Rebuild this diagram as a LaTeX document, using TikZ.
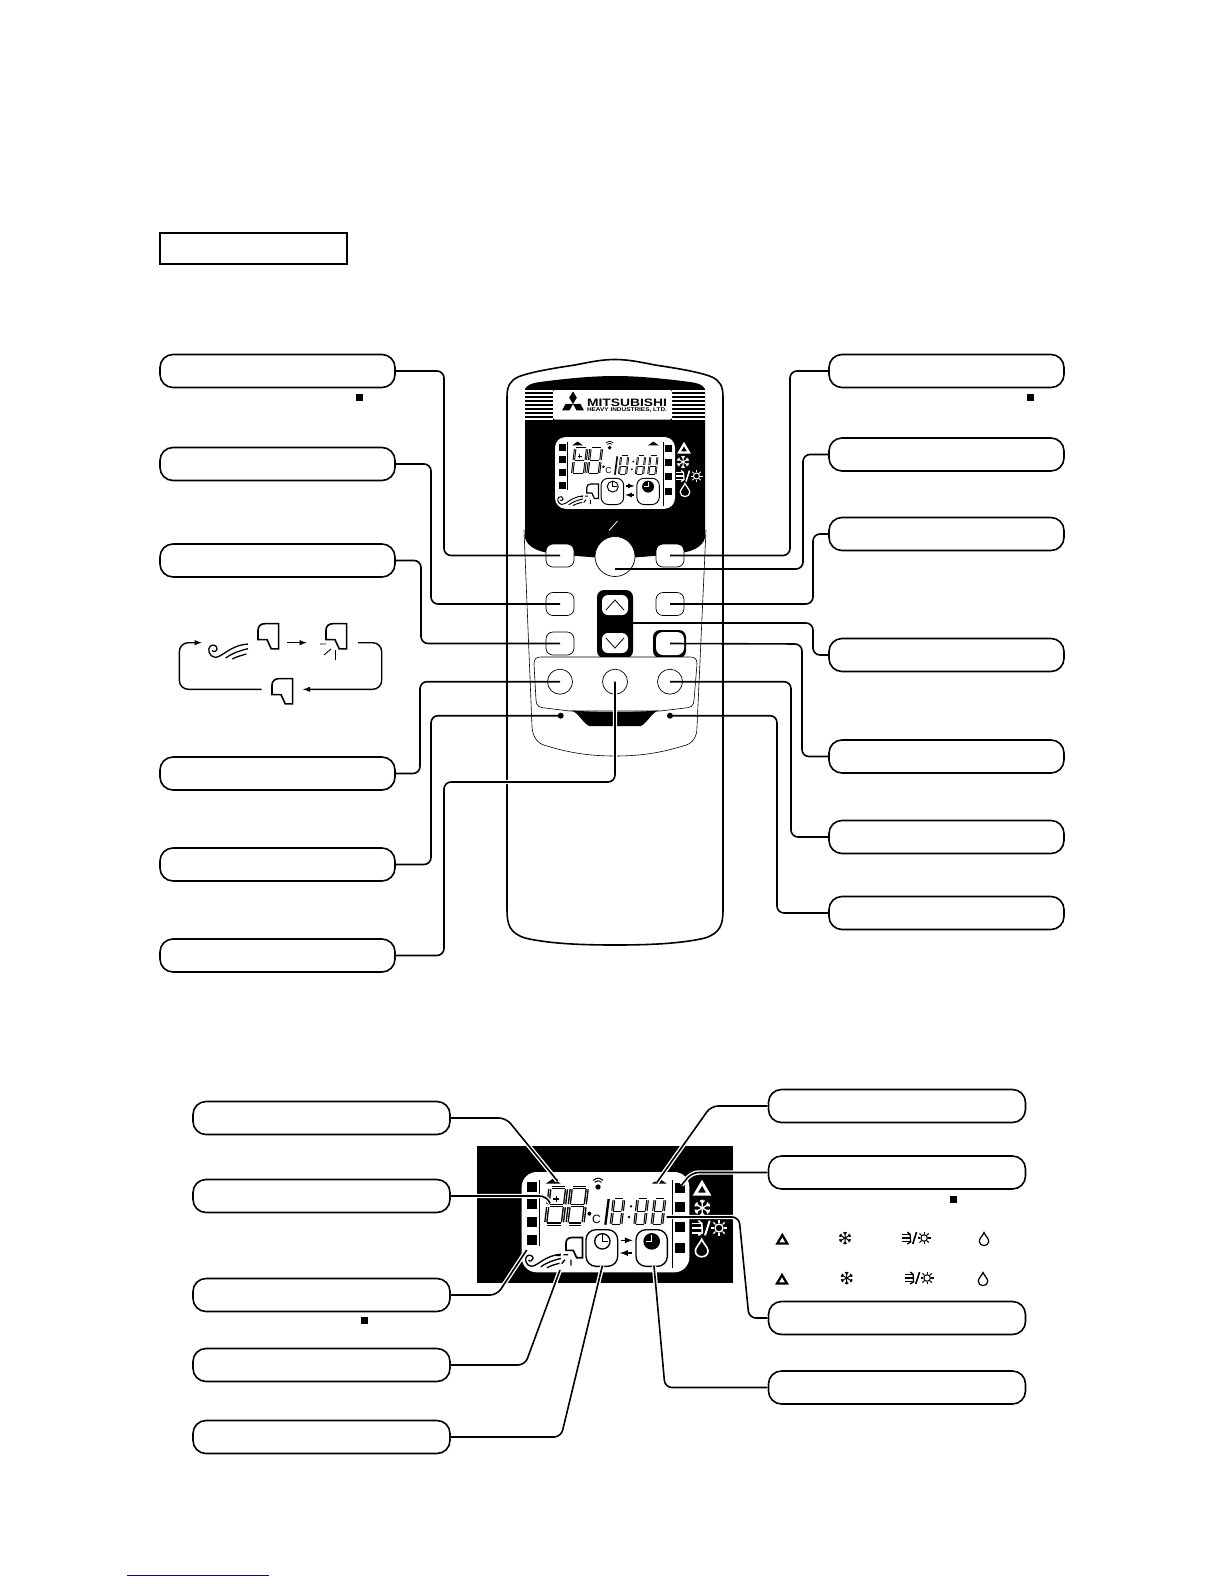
\documentclass[tikz,border=0pt]{standalone}
\usepackage{fontspec}
\usepackage{tikz}
\usetikzlibrary{shapes,arrows,positioning}
\newfontfamily\logofont{Liberation Sans}
\newcommand{\lcddigit}[5]{
	\begin{scope}[shift={(#1,#2)},xslant=.12,xscale=#3,yscale=#4]
		\foreach \ax/\ay/\bx/\by in {.1/0/.9/0,1/.05/1/.46,1/.54/1/.95,.1/1/.9/1,0/.54/0/.95,0/.05/0/.46,.1/.5/.9/.5}
			\draw[line width=#5,double=white,double distance=.4*#5] (\ax,\ay) -- (\bx,\by);
	\end{scope}
}
\newcommand{\louvershape}[4]{
	\begin{scope}[shift={(#1,#2)},scale=#3]
		\draw[line width=#4,line join=miter] (62,2) -- (22,2) .. controls (8,2) and (0,10) .. (0,22) -- (0,50) -- (27,50) -- (40,78) -- (62,78) -- cycle;
	\end{scope}
}
\newcommand{\fanshape}[3]{
	\begin{scope}[shift={(#1,#2)}]
		\draw[line width=#3] (-3,-1) .. controls (0,6) and (12,2) .. (12,-6) .. controls (12,-16) and (0,-20) .. (-8,-14) .. controls (-18,-6) and (-12,18) .. (6,20) .. controls (28,20) and (50,-16) .. (105,-20);
		\draw[line width=#3] (38,22) .. controls (60,6) and (80,0) .. (105,-6);
		\draw[line width=#3] (58,25) .. controls (72,18) .. (100,10);
	\end{scope}
}
\tikzset{
	label box/.style={draw,rounded corners=13pt,minimum height=33pt,inner sep=0pt,line width=1.6pt,fill=white},
	leftbox/.style={label box,minimum width=235pt},
	lowbox/.style={label box,minimum width=257pt},
	btn/.style={draw,rounded corners=7pt,minimum width=28pt,minimum height=23pt,inner sep=0pt,fill=white,line width=.7pt},
	knob/.style={draw,circle,minimum size=25pt,inner sep=0pt,fill=white,line width=.7pt},
	sqmark/.style={fill=black,minimum size=7pt,inner sep=0pt},
	pinhole/.style={circle,fill=black,minimum size=6pt,inner sep=0pt},
	wire/.style={rounded corners=7pt,line width=1.6pt},
	halowire/.style={wire,preaction={draw=white,line width=4.4pt}},
	pics/icontri/.style={code={
		\draw[line width=#1*9pt,line join=miter] (0,-16) -- (20,18) -- (-20,18) -- cycle;
	}},
	pics/iconsnow/.style={code={
		\foreach \a in {0,60,120}
			\draw[line width=#1*4pt,rotate=\a] (0,-25) -- (0,25) (-6,-23) -- (0,-15) -- (6,-23) (-6,23) -- (0,15) -- (6,23);
	}},
	pics/iconheat/.style={code={
		\foreach \b in {-14,0,14}
			\draw[line width=#1*5pt] (-52,\b) -- (-22,\b);
		\draw[line width=#1*5pt] (-32,-22) -- (-22,-14) -- (-20,14) -- (-32,22);
		\draw[line width=#1*6pt] (-12,22) -- (2,-22);
		\draw[line width=#1*4pt] (30,0) circle[radius=12];
		\foreach \a in {0,45,...,315}
			\draw[line width=#1*4pt,shift={(30,0)},rotate=\a] (15,0) -- (24,0);
	}},
	pics/icondrop/.style={code={
		\draw[line width=#1*5pt] (0,-26) .. controls (6,-12) and (19,-2) .. (19,9) .. controls (19,32) and (-19,32) .. (-19,9) .. controls (-19,-2) and (-6,-12) .. (0,-26) -- cycle;
	}},
	pics/lcdpanel/.style={code={
		\begin{scope}[shift={(-155,-97)}]
			\fill[white,rounded corners=#1*45pt] (155,97) rectangle (658,398);
			\foreach \t in {127,178,232,285}
				\fill (172,\t) rectangle (202,\t+30);
			\foreach \t in {130,188,248,310}
				\fill (615,\t) rectangle (645,\t+30);
			\draw[line width=#1*4pt] (208,120) -- (208,318);
			\draw[line width=#1*4pt] (608,120) -- (608,385);
			\fill (227,132) -- (250,116) -- (272,132) -- cycle;
			\fill (545,132) -- (567,116) -- (590,132) -- cycle;
			\fill (384,142) circle[radius=8];
			\draw[line width=#1*3pt] (374,128) .. controls (384,122) .. (394,128) (369,122) .. controls (384,113) .. (399,122);
			\lcddigit{240}{143}{50}{110}{#1*4.2pt}
			\lcddigit{304}{143}{48}{110}{#1*4.2pt}
			\draw[line width=#1*5pt] (250,178) -- (268,178) (259,169) -- (259,187);
			\fill (358,222) circle[radius=6];
			\node[transform shape,font=\logofont\fontsize{36}{36}\selectfont,inner sep=0pt] (degc) at (379,238) {C};
			\draw[line width=#1*7pt] (416,178) -- (406,255);
			\lcddigit{432}{178}{30}{78}{#1*3.4pt}
			\fill (483,200) circle[radius=4] (477,232) circle[radius=4];
			\lcddigit{503}{178}{30}{78}{#1*3.4pt}
			\lcddigit{555}{178}{30}{78}{#1*3.4pt}
			\begin{scope}[scale=.9]
				\fanshape{198}{402}{#1*4pt}
			\end{scope}
			\louvershape{288}{292}{.8}{#1*5pt}
			\draw[line width=#1*4pt] (258,347) -- (272,347) (280,345) -- (294,345) (275,372) -- (285,360) (303,378) -- (303,360);
			\draw[line width=#1*4pt,fill=white,rounded corners=#1*30pt] (348,270) rectangle (443,380);
			\draw[line width=#1*4pt,fill=white,rounded corners=#1*30pt] (498,270) rectangle (592,380);
			\draw[line width=#1*4pt] (397,305) circle[radius=23];
			\draw[line width=#1*3pt] (397,284) -- (397,305) -- (415,305);
			\fill (545,305) circle[radius=25];
			\draw[white,line width=#1*3pt] (545,286) -- (545,305) -- (527,305);
			\draw[-latex,line width=#1*5pt] (452,302) -- (488,302);
			\draw[-latex,line width=#1*5pt] (486,340) -- (450,340);
		\end{scope}
	}},
}
\begin{document}
\begin{tikzpicture}[x=1pt,y=-1pt]
	\useasboundingbox (0,0) rectangle (1224,1584);

	\node[draw,line width=1.6pt,minimum width=187pt,minimum height=31.5pt,inner sep=0pt] (title) at (253.5,248.5) {};

	\draw[line width=1.6pt] (507,397) .. controls (507,386) and (510,381) .. (518,377) .. controls (530,372) and (555,368) .. (575,365) .. controls (590,362) and (602,359.5) .. (615,359.5) .. controls (628,359.5) and (640,362) .. (655,365) .. controls (675,368) and (700,372) .. (712,377) .. controls (720,381) and (723,386) .. (723,397) -- (723,910) .. controls (723,925) and (720,933) .. (705,938) .. controls (680,944) and (645,945) .. (615,945) .. controls (585,945) and (550,944) .. (525,938) .. controls (510,933) and (507,925) .. (507,910) -- cycle;
	\draw[line width=.6pt] (524,530) -- (532,727) .. controls (533,738) and (538,744) .. (547,746) .. controls (570,753) and (590,756) .. (615,756) .. controls (640,756) and (660,753) .. (683,746) .. controls (692,744) and (697,738) .. (697,727) -- (706,530);
	\fill (525,389) .. controls (527,385) and (532,383) .. (540,382) .. controls (570,378) and (595,376) .. (615,376) .. controls (635,376) and (660,378) .. (690,382) .. controls (698,383) and (703,385) .. (705,389) -- (705,538) .. controls (702,548) and (690,552) .. (680,553) .. controls (655,556) and (635,558) .. (615,558) .. controls (595,558) and (575,556) .. (550,553) .. controls (540,552) and (528,548) .. (525,538) -- cycle;
	\foreach \s in {391,395,399,403,407,411,415,419} {
		\draw[white,line width=1.2pt] (525,\s) -- (553,\s);
		\draw[white,line width=1.2pt] (672,\s) -- (705,\s);
	}
	\fill[white,rounded corners=2pt] (553,390) rectangle (672,419.5);
	\foreach \a in {0,120,240}
		\fill[shift={(573,404)},rotate=\a] (0,0) -- (3.8,-6.3) -- (0,-12.6) -- (-3.8,-6.3) -- cycle;
	\node[inner sep=0pt] (brand) at (627,403) {\resizebox{80pt}{7.5pt}{\logofont\bfseries MITSUBISHI}};
	\node[inner sep=0pt] (brandsub) at (627,409.8) {\resizebox{80pt}{3.8pt}{\logofont\bfseries HEAVY INDUSTRIES, LTD.}};

	\pic[scale=.2386] at (555,437) {lcdpanel=.2386};
	\begin{scope}[color=white]
		\pic[scale=.25] at (684,448) {icontri=.25};
		\pic[scale=.25] at (683,462) {iconsnow=.25};
		\pic[scale=.25] at (689,476) {iconheat=.25};
		\pic[scale=.25] at (685,490) {icondrop=.25};
	\end{scope}
	\draw[white,line width=.8pt] (609,530.5) -- (617.5,521);

	\fill[rounded corners=7pt] (597,658) -- (597,590) -- (633,590) -- (633,658) -- cycle;
	\fill[rounded corners=7pt] (653,658) -- (653,630) -- (686,630) -- (686,658) -- cycle;
	\draw[fill=white,line width=.6pt] (541,657) -- (690,657) .. controls (695,657) and (697,659) .. (697,664) -- (694,700) .. controls (694,706) and (690,708) .. (685,708) -- (660,711) -- (570,711) -- (545,708) .. controls (540,708) and (536,706) .. (536,700) -- (534,664) .. controls (534,659) and (536,657) .. (541,657) -- cycle;
	\fill (571,710.5) .. controls (600,712.5) and (630,712.5) .. (659,710.5) .. controls (652,712) and (648,722) .. (641,726) -- (589,726) .. controls (582,722) and (578,712) .. (571,710.5) -- cycle;

	\node[btn] (timer) at (560,555.5) {};
	\node[draw,circle,minimum size=40pt,inner sep=0pt,fill=white,line width=.7pt] (power) at (615,556.5) {};
	\node[btn] (sleep) at (670,555.5) {};
	\node[btn] (fan) at (560,604) {};
	\node[btn] (swing) at (560,643.5) {};
	\node[btn] (mode) at (670,604) {};
	\node[btn,draw=none] (clean) at (670,643.5) {};
	\node[btn,draw=none,rounded corners=6pt,minimum width=26pt,minimum height=20pt] (tempup) at (615,605) {};
	\node[btn,draw=none,rounded corners=6pt,minimum width=26pt,minimum height=20pt] (tempdown) at (615,643) {};
	\draw[line width=.8pt] (606,610) -- (615,600) -- (624,610);
	\draw[line width=.8pt] (606,638) -- (615,648) -- (624,638);
	\node[knob] (ontime) at (560,681.7) {};
	\node[knob] (cancel) at (615,681.7) {};
	\node[knob] (offtime) at (670,681.7) {};
	\node[pinhole] (reset) at (560.7,715.7) {};
	\node[pinhole] (check) at (670,715.7) {};

	\node[leftbox] (L1) at (277.5,371) {};
	\node[leftbox] (L2) at (277.5,464) {};
	\node[leftbox] (L3) at (277.5,560.5) {};
	\node[leftbox] (L4) at (277.5,773.5) {};
	\node[leftbox] (L5) at (277.5,864.5) {};
	\node[leftbox] (L6) at (277.5,955.5) {};
	\node[leftbox] (R1) at (946.5,371) {};
	\node[leftbox] (R2) at (946.5,454.5) {};
	\node[leftbox] (R3) at (946.5,534) {};
	\node[leftbox] (R4) at (946.5,655) {};
	\node[leftbox] (R5) at (946.5,756.5) {};
	\node[leftbox] (R6) at (946.5,837) {};
	\node[leftbox] (R7) at (946.5,913) {};
	\node[sqmark] (sq1) at (359.5,397) {};
	\node[sqmark] (sq2) at (1030,397) {};

	\draw[wire] (L1.east) -| (444,555.5) -- (timer.center);
	\draw[wire] (L2.east) -| (431,604) -- (fan.center);
	\draw[wire] (L3.east) -| (421,643.5) -- (swing.center);
	\draw[wire] (L4.east) -| (420,681.7) -- (ontime.center);
	\draw[wire] (L5.east) -| (431,715.7) -- (reset.center);
	\draw[halowire] (L6.east) -| (444,782) -| (cancel.center);
	\draw[wire] (R1.west) -| (790,555.5) -- (sleep.center);
	\draw[wire] (R2.west) -| (803,569) -- (power.center |- 0,569);
	\draw[wire] (R3.west) -| (813,604) -- (mode.center);
	\coordinate (tempedge) at (630,623);
	\draw[wire] (R4.west) -| (813,623) -- (tempedge);
	\draw[wire] (R5.west) -| (802,644) -- (clean.center);
	\draw[wire] (R6.west) -| (791,681.7) -- (offtime.center);
	\draw[wire] (R7.west) -| (777,715.7) -- (check.center);

	\begin{scope}[shift={(213,650.7)},scale=.3333]
		\fanshape{0}{0}{1.3pt}
	\end{scope}
	\begin{scope}[scale=.3333]
		\louvershape{774}{1869}{1}{1.6pt}
		\louvershape{978}{1869}{1}{1.6pt}
		\louvershape{816}{2034}{1}{1.6pt}
	\end{scope}
	\draw[line width=.9pt] (320,644) -- (326,644) (324,655) -- (331,649) (335.5,650) -- (335.5,660);
	\coordinate (loopa) at (261.7,689.3);
	\coordinate (loopb) at (201.7,642.7);
	\coordinate (loopc) at (358,642.7);
	\coordinate (loopd) at (303,689.3);
	\draw[-latex,line width=1.4pt,rounded corners=9pt] (loopa) -- (179.3,689.3) -- (179.3,642.7) -- (loopb);
	\draw[-latex,line width=1.4pt,rounded corners=9pt] (loopc) -- (381.7,642.7) -- (381.7,689.3) -- (loopd);
	\draw[-latex,line width=1.4pt] (287.3,642.7) -- (306.7,642.7);

	\fill (477,1146) rectangle (733,1283);
	\pic[scale=.3333] at (521.7,1172) {lcdpanel=.3333};
	\begin{scope}[color=white]
		\pic[scale=.3333] at (702,1188) {icontri=.3333};
		\pic[scale=.3333] at (702.3,1208) {iconsnow=.3333};
		\pic[scale=.3333] at (709,1228) {iconheat=.3333};
		\pic[scale=.3333] at (701.7,1248) {icondrop=.3333};
	\end{scope}
	\pic[scale=.25] at (782.3,1239) {icontri=.25};
	\pic[scale=.25] at (845,1238) {iconsnow=.25};
	\pic[scale=.27] at (916,1238) {iconheat=.27};
	\pic[scale=.25] at (984,1239) {icondrop=.25};
	\pic[scale=.25] at (782,1279) {icontri=.25};
	\pic[scale=.25] at (846.7,1278) {iconsnow=.25};
	\pic[scale=.27] at (919,1278) {iconheat=.27};
	\pic[scale=.25] at (983,1279) {icondrop=.25};

	\node[lowbox] (D1) at (321.5,1118) {};
	\node[lowbox] (D2) at (321.5,1196) {};
	\node[lowbox] (D3) at (321.5,1295) {};
	\node[lowbox] (D4) at (321.5,1365) {};
	\node[lowbox] (D5) at (321.5,1437) {};
	\node[lowbox] (E1) at (897,1106) {};
	\node[lowbox] (E2) at (897,1172.5) {};
	\node[lowbox] (E3) at (897,1318) {};
	\node[lowbox] (E4) at (897,1387.5) {};
	\node[sqmark] (sq3) at (953.5,1199) {};
	\node[sqmark] (sq4) at (364.5,1320) {};

	\coordinate (caretl) at (557.5,1181);
	\coordinate (tempseg) at (550,1203);
	\coordinate (leftsq) at (526.7,1250);
	\coordinate (louvray) at (560,1270);
	\coordinate (onclock) at (602.3,1266);
	\coordinate (caretr) at (656.7,1182.7);
	\coordinate (rightsq) at (681.7,1185);
	\coordinate (timedigit) at (666.7,1217);
	\coordinate (offclock) at (654,1266);
	\draw[halowire] (D1.east) -- (506,1118) -- (caretl);
	\draw[halowire] (D2.east) -- (546.7,1196) -- (tempseg);
	\draw[halowire] (D3.east) -- (497,1295) -- (leftsq);
	\draw[halowire] (D4.east) -- (525,1365) -- (louvray);
	\draw[halowire] (D5.east) -- (561,1437) -- (onclock);
	\draw[halowire] (E1.west) -- (711,1106) -- (caretr);
	\draw[halowire] (E2.west) -- (691.7,1172.5) -- (rightsq);
	\draw[halowire] (E3.west) -- (749,1318) -- (739,1217) -- (timedigit);
	\draw[halowire] (E4.west) -- (665,1387.5) -- (offclock);

	\draw[color={rgb,255:red,10;green,10;blue,150},line width=1pt] (127,1575) -- (269,1575);
\end{tikzpicture}
\end{document}
